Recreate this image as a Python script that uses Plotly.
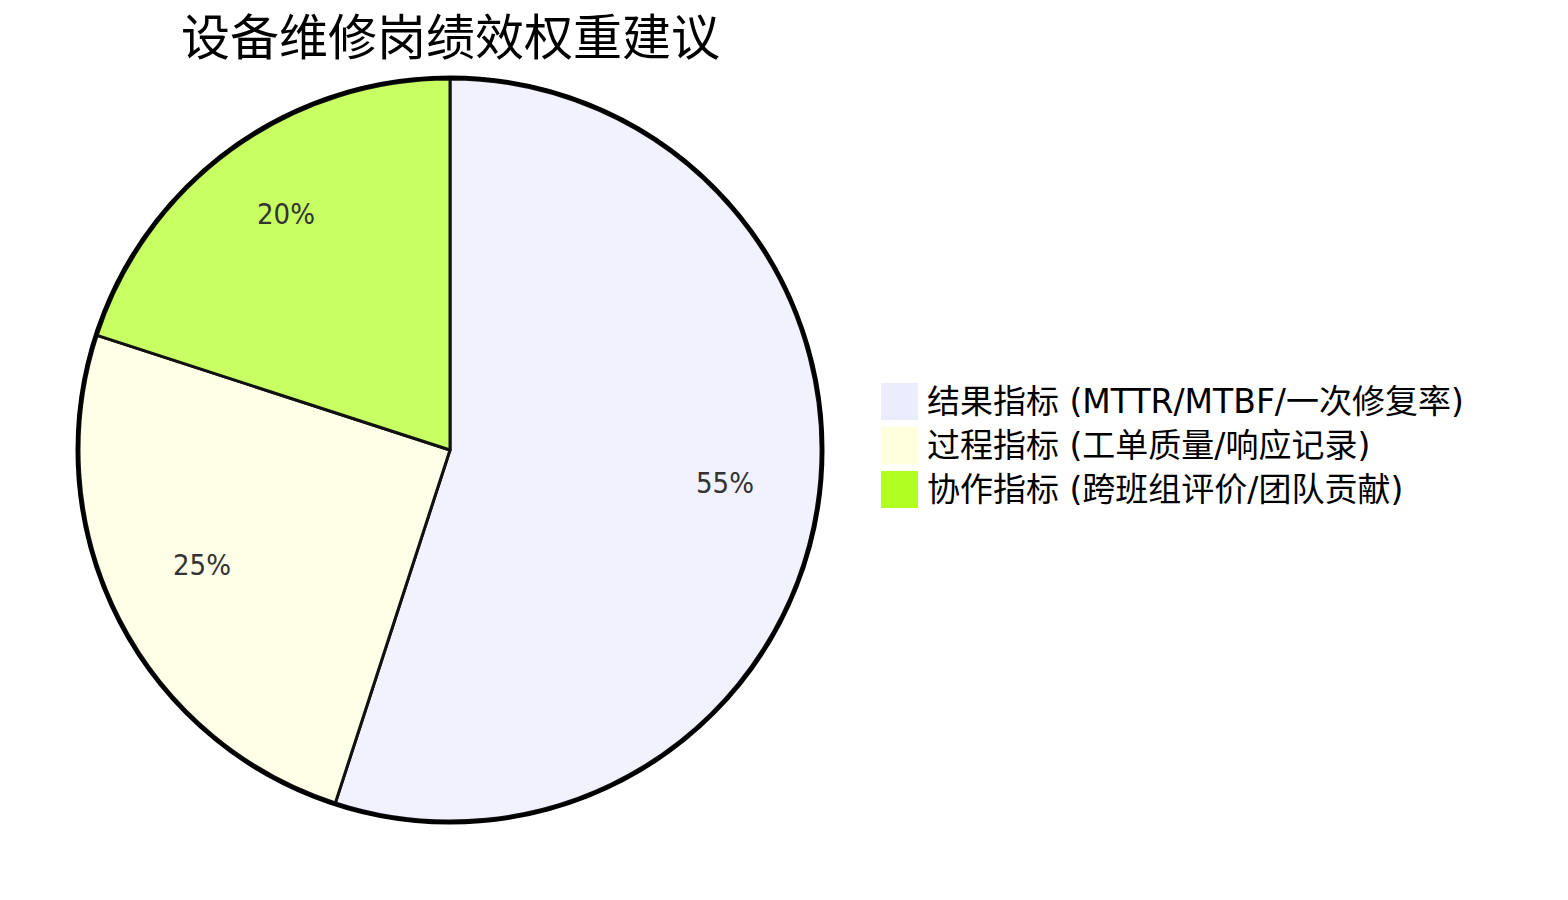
import math
import plotly.graph_objects as go

# 数据
title = "设备维修岗绩效权重建议"
labels = [
    "结果指标 (MTTR/MTBF/一次修复率)",
    "过程指标 (工单质量/响应记录)",
    "协作指标 (跨班组评价/团队贡献)",
]
values = [55, 25, 20]
legend_colors = ["#ECECFF", "#FFFFDE", "#B1FF20"]
slice_colors = ["#F2F2FF", "#FFFFE8", "#C8FF63"]

W, H = 1568, 900
OFF = 8  # 页面 body 的默认边距
cx, cy, r = 450, 450, 371
font = "DejaVu Sans, Noto Sans CJK SC, sans-serif"
label_font = "DejaVu Sans Condensed, Noto Sans CJK SC, sans-serif"


def px(x):
    return (x - OFF) / W


def py(y):
    return 1 - (y - OFF) / H


fig = go.Figure()
fig.add_trace(go.Pie(
    labels=labels,
    values=values,
    sort=False,
    direction="clockwise",
    rotation=0,
    marker=dict(colors=slice_colors, line=dict(color="#111111", width=3)),
    textinfo="none",
    hoverinfo="label+percent",
    showlegend=False,
    domain=dict(x=[px(cx - r), px(cx + r)], y=[py(cy + r), py(cy - r)]),
))

# 外圈
fig.add_shape(type="circle", xref="paper", yref="paper",
              x0=px(cx - r - 1.5), x1=px(cx + r + 1.5),
              y0=py(cy + r + 1.5), y1=py(cy - r - 1.5),
              line=dict(color="black", width=4))

# 百分比标签（按 0.75 半径放置）
total = sum(values)
cum = 0
for v in values:
    mid = (cum + v / 2) / total * 2 * math.pi
    cum += v
    bx = cx + 0.75 * r * math.sin(mid)
    by = cy - 0.75 * r * math.cos(mid)
    fig.add_annotation(xref="paper", yref="paper", x=px(bx), y=py(by - 11),
                       text=f"{v / total:.0%}", showarrow=False,
                       xanchor="center", yanchor="middle",
                       font=dict(family=label_font, size=29, color="#333333"))

# 图例
lx, ly, box, step = 881, 383, 37, 44
for i, (lab, col) in enumerate(zip(labels, legend_colors)):
    top = ly + i * step
    fig.add_shape(type="rect", xref="paper", yref="paper",
                  x0=px(lx), x1=px(lx + box),
                  y0=py(top + box), y1=py(top),
                  fillcolor=col, line=dict(width=0))
    fig.add_annotation(xref="paper", yref="paper", x=px(lx + box + 7),
                       y=py(top + box / 2), text=lab, showarrow=False,
                       xanchor="left", yanchor="middle",
                       font=dict(family=font, size=33, color="black"))

fig.add_annotation(xref="paper", yref="paper", x=px(cx), y=1,
                   text=title, showarrow=False, xanchor="center", yanchor="top",
                   font=dict(family=font, size=49, color="black"))

fig.update_layout(
    width=W, height=H,
    margin=dict(l=0, r=0, t=0, b=0),
    paper_bgcolor="white",
    plot_bgcolor="white",
)

fig.write_html("out.html")
